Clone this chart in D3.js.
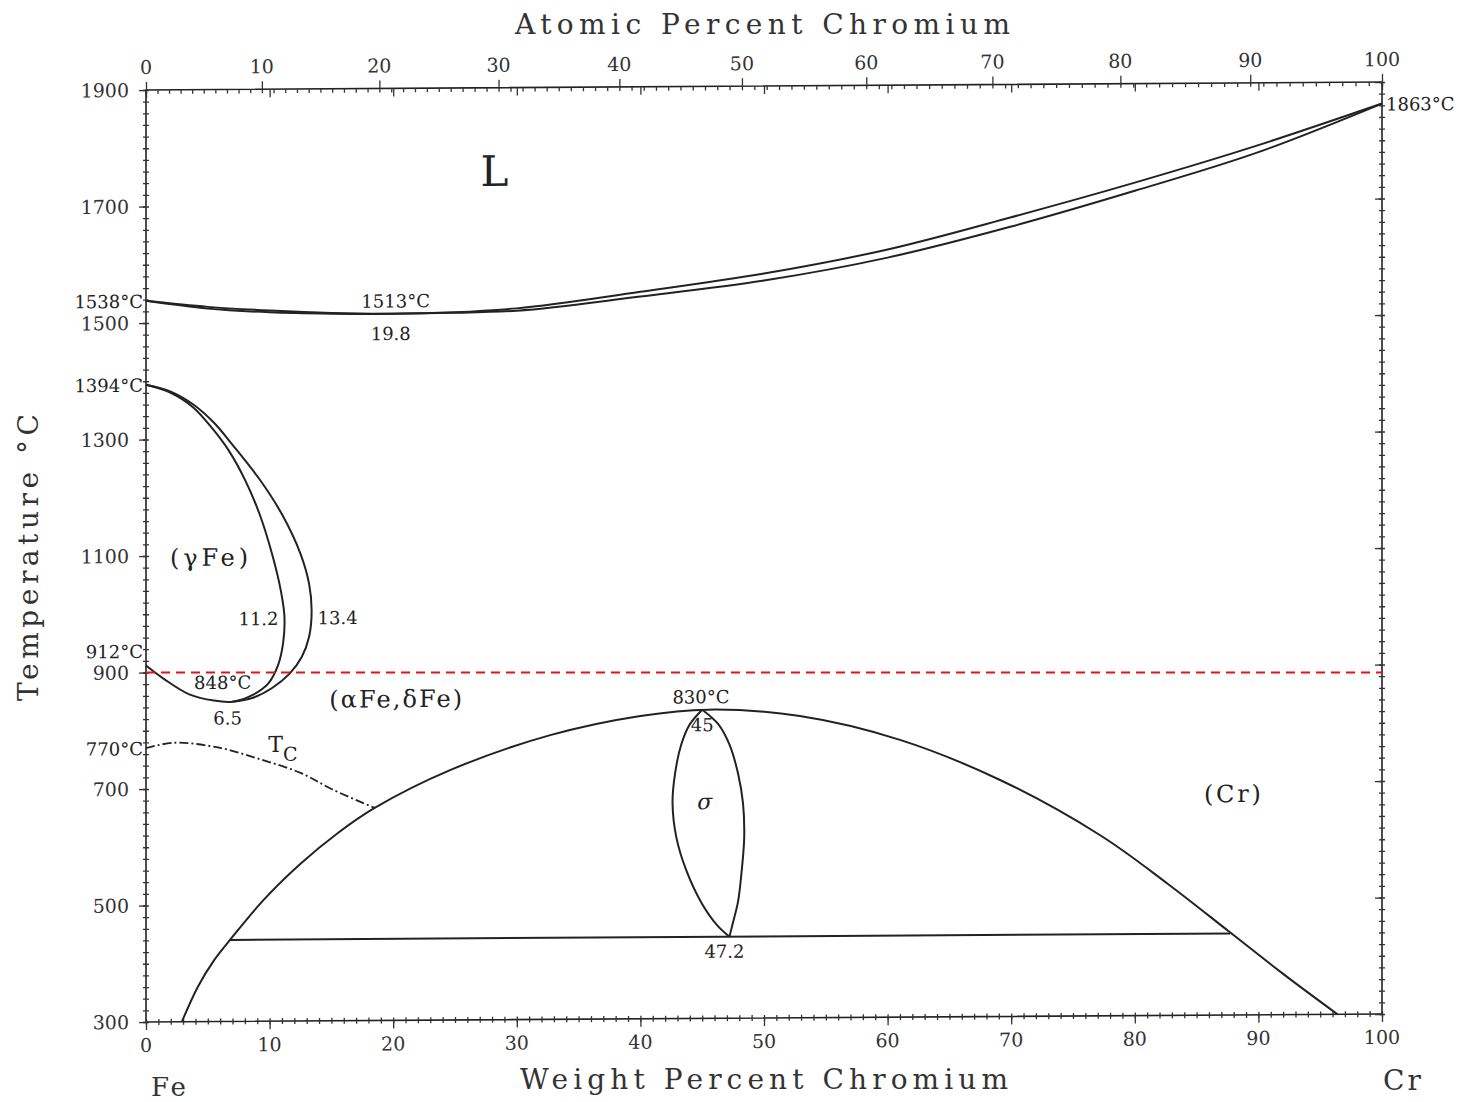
<!DOCTYPE html>
<html><head><meta charset="utf-8">
<script src="https://cdn.jsdelivr.net/npm/d3@7"></script>
<style>body{margin:0;background:#fff}svg{display:block}</style>
</head><body>
<svg id="c" width="1474" height="1102"></svg>
<script>
// ---------- data ----------
const tempTicks = [300, 500, 700, 900, 1100, 1300, 1500, 1700, 1900];
const wtTicks = [0, 10, 20, 30, 40, 50, 60, 70, 80, 90, 100];
const atTicks = [0, 10, 20, 30, 40, 50, 60, 70, 80, 90, 100];
const MW_FE = 55.845, MW_CR = 51.996;

const liquidus = [[0,1538],[5,1527],[10,1520],[15,1515],[19.8,1513],[25,1515],[30,1521],[40,1548],[50,1578],[60,1618],[70,1672],[80,1730],[90,1793],[100,1863]];
const solidus  = [[0,1538],[5,1524],[10,1517],[15,1514],[19.8,1513],[25,1514],[30,1517],[40,1540],[50,1566],[60,1604],[70,1656],[80,1716],[90,1781],[100,1863]];

const gammaInner = [[0,1394],[2,1380],[3.8,1355],[5.3,1320],[6.7,1280],[8,1230],[9.2,1170],[10.2,1102],[10.9,1040],[11.2,995],[11.1,950],[10.7,912],[9.9,880],[8.6,860],[7,849],[5.5,851],[3.5,862],[1.5,888],[0,912]];
const gammaOuter = [[0,1394],[2,1382],[3.8,1360],[5.5,1328],[7,1290],[9.2,1230],[11,1170],[12.5,1102],[13.2,1050],[13.4,1005],[13.2,960],[12.6,925],[11.6,896],[10.2,872],[8.6,855],[7,849]];

const curie = [[0,770],[2.2,779],[5.7,771],[9.2,750],[12.5,726],[15.1,697],[18.5,665]];

const alphaDome = [[2.9,300],[4.2,360],[5.5,405],[6.8,440],[9.5,508],[12.5,570],[15.5,622],[18.5,665],[24.6,729],[32.7,788],[40,820],[45.5,830],[52.9,818],[61,776],[69.1,706],[77.2,610],[82.6,527],[87.7,442],[92,370],[96.4,300]];
const eutectoid = [[6.8,440],[87.7,440]];

const sigmaLeft  = [[45,830],[44,805],[43.3,770],[42.8,720],[42.6,670],[42.9,612],[43.7,555],[44.9,500],[46.2,460],[47.2,440]];
const sigmaRight = [[45,830],[46.3,805],[47.2,770],[47.9,720],[48.3,669],[48.4,611],[48.2,554],[47.9,500],[47.5,465],[47.2,440]];

const redLineTemp = 900;

// annotations: text, composition (wt%), temperature (°C)
const notes = [
  {t:'1538°C', wt:0, T:1538, k:'left'},
  {t:'1394°C', wt:0, T:1394, k:'left'},
  {t:'912°C', wt:0, T:937, k:'left'},
  {t:'770°C', wt:0, T:770, k:'left'},
  {t:'1863°C', wt:100, T:1863, k:'right'},
  {t:'1513°C', wt:20.2, T:1536, k:'mid'},
  {t:'19.8', wt:19.8, T:1480, k:'mid'},
  {t:'11.2', wt:9.1, T:992, k:'mid'},
  {t:'13.4', wt:15.5, T:993, k:'mid'},
  {t:'848°C', wt:6.2, T:883, k:'mid'},
  {t:'6.5', wt:6.6, T:822, k:'mid'},
  {t:'830°C', wt:44.9, T:853, k:'mid'},
  {t:'45', wt:45.0, T:805, k:'mid'},
  {t:'47.2', wt:46.8, T:416, k:'mid'}
];
const phases = [
  {t:'(γFe)', wt:5.1, T:1098, w:78},
  {t:'(αFe,δFe)', wt:20.2, T:853, w:133},
  {t:'(Cr)', wt:87.9, T:681, w:57}
];

// ---------- drawing ----------
const svg = d3.select('#c');
const x = d3.scaleLinear().domain([0,100]).range([146,1382]);
const y = d3.scaleLinear().domain([300,1900]).range([1022,90]);
const atToWt = a => 100*a*MW_CR/(a*MW_CR+(100-a)*MW_FE);
const FONT = "'DejaVu Serif', 'Liberation Serif', serif";
const INK = '#222';

const g = svg.append('g').attr('transform','translate(146,0) skewY(-0.37) translate(-146,0)');

// frame
g.append('rect').attr('x',x(0)).attr('y',y(1900)).attr('width',x(100)-x(0)).attr('height',y(300)-y(1900))
  .attr('fill','none').attr('stroke',INK).attr('stroke-width',1.6);

function tickAxis(axisFn, scale, values, size, tx, ty){
  g.append('g').attr('transform',`translate(${tx},${ty})`)
   .call(axisFn(scale).tickValues(values).tickSize(size).tickFormat(''))
   .call(s=>{s.select('.domain').remove(); s.selectAll('line').attr('stroke','#333').attr('stroke-width',1.3);});
}
const minorT = d3.range(300,1901,20);
const minorWt = d3.range(0,101,1);
const minorAt = d3.range(0,101,1).map(atToWt);
// left
tickAxis(d3.axisLeft, y, tempTicks, 7, x(0), 0);
tickAxis(d3.axisLeft, y, minorT, 3, x(0), 0);
tickAxis(d3.axisRight, y, minorT, 3, x(0), 0);
// right
tickAxis(d3.axisLeft, y, tempTicks, 7, x(100), 0);
tickAxis(d3.axisLeft, y, minorT, 3, x(100), 0);
tickAxis(d3.axisRight, y, minorT, 3, x(100), 0);
// top (atomic outward, weight inward)
tickAxis(d3.axisTop, x, atTicks.map(atToWt), 8, 0, y(1900));
tickAxis(d3.axisBottom, x, minorAt, 4, 0, y(1900));
tickAxis(d3.axisBottom, x, wtTicks, 8, 0, y(1900));
// bottom
tickAxis(d3.axisBottom, x, wtTicks, 8, 0, y(300));
tickAxis(d3.axisTop, x, minorWt, 3, 0, y(300));
tickAxis(d3.axisBottom, x, minorWt, 3, 0, y(300));

// tick labels
const lab = g.append('g').attr('font-family',FONT).attr('fill','#333').attr('font-size',19);
lab.selectAll('.yl').data(tempTicks).join('text').attr('x',x(0)-17).attr('y',d=>y(d)+7)
  .attr('text-anchor','end').text(d=>d);
lab.selectAll('.bl').data(wtTicks).join('text').attr('x',d=>x(d)).attr('y',y(300)+30)
  .attr('text-anchor','middle').text(d=>d);
lab.selectAll('.tl').data(atTicks).join('text').attr('x',d=>x(atToWt(d))).attr('y',y(1900)-16)
  .attr('text-anchor','middle').text(d=>d);

// axis titles
const tt = svg.append('g').attr('font-family',FONT).attr('fill','#333').attr('font-size',28);
tt.append('text').attr('x',515).attr('y',34).attr('textLength',495).attr('lengthAdjust','spacing').text('Atomic Percent Chromium');
tt.append('text').attr('x',520).attr('y',1089).attr('textLength',488).attr('lengthAdjust','spacing').text('Weight Percent Chromium');
tt.append('text').attr('transform','translate(38,701) rotate(-90)').attr('textLength',287).attr('lengthAdjust','spacing').text('Temperature °C');
tt.append('text').attr('x',151).attr('y',1096).attr('font-size',26).attr('textLength',35).attr('lengthAdjust','spacing').text('Fe');
tt.append('text').attr('x',1383).attr('y',1090).attr('textLength',38).attr('lengthAdjust','spacing').text('Cr');

// curves
const lineX = d3.line().x(d=>x(d[0])).y(d=>y(d[1])).curve(d3.curveMonotoneX);
const lineC = d3.line().x(d=>x(d[0])).y(d=>y(d[1])).curve(d3.curveCatmullRom.alpha(0.5));
const lineL = d3.line().x(d=>x(d[0])).y(d=>y(d[1]));
const curves = g.append('g').attr('fill','none').attr('stroke',INK).attr('stroke-width',2);
curves.append('path').attr('d',lineX(liquidus));
curves.append('path').attr('d',lineX(solidus));
curves.append('path').attr('d',lineC(gammaInner));
curves.append('path').attr('d',lineC(gammaOuter));
curves.append('path').attr('d',lineC(alphaDome));
curves.append('path').attr('d',lineL(eutectoid));
curves.append('path').attr('d',lineC(sigmaLeft));
curves.append('path').attr('d',lineC(sigmaRight));
curves.append('path').attr('d',lineC(curie)).attr('stroke-dasharray','9,3,2,3').attr('stroke-width',1.8);

// annotations
const an = g.append('g').attr('font-family',FONT).attr('fill',INK).attr('font-size',18);
notes.forEach(n=>{
  const t = an.append('text').text(n.t);
  if(n.k==='left') t.attr('x',x(n.wt)-3).attr('y',y(n.T)+7).attr('text-anchor','end');
  else if(n.k==='right') t.attr('x',x(n.wt)+4).attr('y',y(n.T)+7).attr('text-anchor','start');
  else t.attr('x',x(n.wt)).attr('y',y(n.T)+7).attr('text-anchor','middle');
});
const ph = g.append('g').attr('font-family',FONT).attr('fill',INK).attr('font-size',24);
phases.forEach(p=>{
  ph.append('text').attr('x',x(p.wt)-p.w/2).attr('y',y(p.T)+9).attr('textLength',p.w).attr('lengthAdjust','spacing').text(p.t);
});
ph.append('text').attr('x',x(28.2)).attr('y',y(1759)+16).attr('text-anchor','middle').attr('font-size',42).text('L');
ph.append('text').attr('x',x(45.2)).attr('y',y(671)+7).attr('text-anchor','middle').attr('font-size',22).attr('font-style','italic').text('σ');
const tc = ph.append('text').attr('x',x(9.9)).attr('y',y(776)+8).attr('font-size',22);
tc.append('tspan').text('T');
tc.append('tspan').attr('dy',9).attr('font-size',19).text('C');

// red dashed reference line (not skewed)
svg.append('line').attr('x1',x(0)).attr('x2',x(100)).attr('y1',y(redLineTemp)).attr('y2',y(redLineTemp))
  .attr('stroke','#e8101a').attr('stroke-width',1.8).attr('stroke-dasharray','9,6');
</script>
</body></html>
